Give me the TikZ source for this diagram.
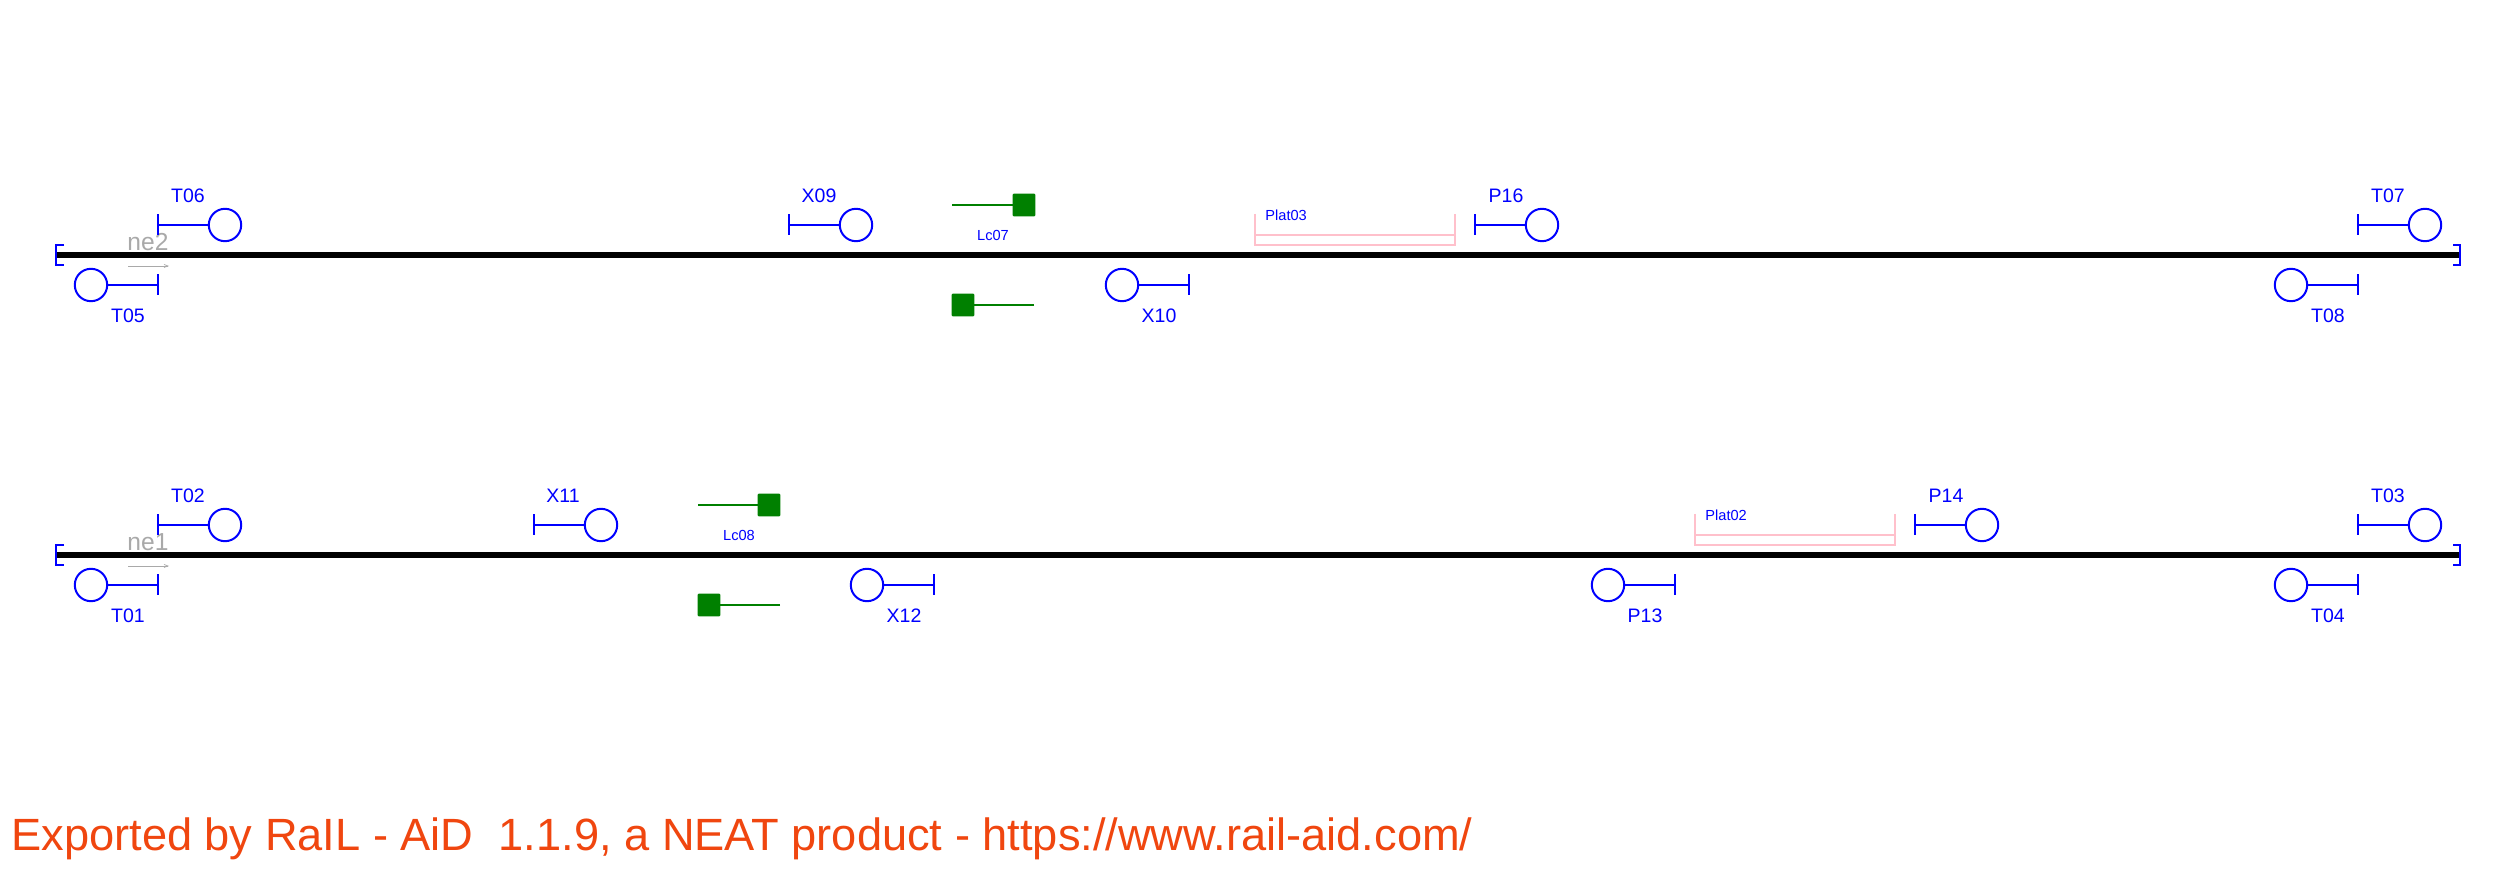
\documentclass[tikz,border=0pt]{standalone}
\usepackage{fontspec}
\setmainfont{Liberation Sans}
\usetikzlibrary{arrows.meta}
\definecolor{sigblue}{RGB}{0,0,255}
\definecolor{lcgreen}{RGB}{0,128,0}
\definecolor{platpink}{RGB}{255,192,203}
\definecolor{exportred}{RGB}{240,70,15}
\definecolor{negray}{RGB}{169,169,169}
\tikzset{
  sigline/.style={draw=sigblue,line width=1pt},
  sighead/.style={circle,draw=sigblue,line width=1pt,fill=none,minimum size=16.2pt,inner sep=0pt,outer sep=0pt},
  siglabel/.style={anchor=base,text=sigblue,font=\fontsize{9.75}{10}\selectfont,inner sep=0pt},
  smalllabel/.style={anchor=base,text=sigblue,font=\fontsize{7.3}{8}\selectfont,inner sep=0pt},
  platlabel/.style={anchor=base west,text=sigblue,font=\fontsize{7.3}{8}\selectfont,inner sep=0pt},
  neline/.style={anchor=base,text=negray,font=\fontsize{12.3}{13}\selectfont,inner sep=0pt},
  track/.style={draw=black,line width=2.6pt},
  trackend/.style={draw=sigblue,line width=1pt},
  lcsquare/.style={rectangle,fill=lcgreen,rounded corners=0.5pt,minimum size=11.3pt,inner sep=0pt,outer sep=0pt},
  lcline/.style={draw=lcgreen,line width=1pt},
  platline/.style={draw=platpink,line width=1pt},
  nearrow/.style={draw=negray,line width=0.35pt,-{Straight Barb[length=2pt,width=1.5pt]}},
  exportlabel/.style={anchor=base west,text=exportred,font=\fontsize{22.6}{24}\selectfont,inner sep=0pt}
}
% signal: name, bar x, circle x, y, label x, label y, label
\newcommand{\railsignal}[7]{
  \node[sighead] (#1c) at (#3,#4) {};
  \coordinate (#1a) at (#2,#4-10.5);
  \coordinate (#1b) at (#2,#4+10.5);
  \coordinate (#1m) at (#2,#4);
  \draw[sigline] (#1a) -- (#1b);
  \draw[sigline] (#1m) -- (#1c);
  \node[siglabel] (#1t) at (#5,#6) {#7};
}
% crossing symbol: name, line end x, square x, y
\newcommand{\railcrossing}[4]{
  \node[lcsquare] (#1s) at (#3,#4) {};
  \coordinate (#1e) at (#2,#4);
  \draw[lcline] (#1e) -- (#1s);
}
% platform: name, left x, right x, top y, label
\newcommand{\railplatform}[5]{
  \coordinate (#1a) at (#2,#4);
  \coordinate (#1b) at (#2,#4+21);
  \coordinate (#1c) at (#2,#4+31);
  \coordinate (#1d) at (#3,#4+31);
  \coordinate (#1e) at (#3,#4+21);
  \coordinate (#1f) at (#3,#4);
  \draw[platline] (#1a) -- (#1c) -- (#1d) -- (#1f);
  \draw[platline] (#1b) -- (#1e);
  \node[platlabel] (#1t) at (#2+10,#4+7) {#5};
}
% track: name, y, label
\newcommand{\railtrack}[3]{
  \coordinate (#1l) at (56,#2);
  \coordinate (#1r) at (2459,#2);
  \draw[track] (#1l) -- (#1r);
  \coordinate (#1la) at (64,#2-10);
  \coordinate (#1lb) at (56,#2-10);
  \coordinate (#1lc) at (56,#2+10);
  \coordinate (#1ld) at (64,#2+10);
  \coordinate (#1ra) at (2453,#2-10);
  \coordinate (#1rb) at (2460,#2-10);
  \coordinate (#1rc) at (2460,#2+10);
  \coordinate (#1rd) at (2453,#2+10);
  \draw[trackend] (#1la) -- (#1lb) -- (#1lc) -- (#1ld);
  \draw[trackend] (#1ra) -- (#1rb) -- (#1rc) -- (#1rd);
  \node[neline] (#1t) at (148,#2-4) {#3};
  \coordinate (#1p) at (128,#2+11);
  \coordinate (#1q) at (169,#2+11);
  \draw[nearrow] (#1p) -- (#1q);
}
\begin{document}
\begin{tikzpicture}[x=0.5pt,y=-0.5pt]
\useasboundingbox[fill=white] (0,0) rectangle (2516,870);
\railtrack{ne2}{255}{ne2}
\railtrack{ne1}{555}{ne1}
% upper line
\railsignal{T06}{158}{225}{225}{188}{203}{T06}
\railsignal{T05}{158}{91}{285}{128}{323}{T05}
\railsignal{X09}{789}{856}{225}{819}{203}{X09}
\railsignal{X10}{1189}{1122}{285}{1159}{323}{X10}
\railsignal{P16}{1475}{1542}{225}{1506}{203}{P16}
\railsignal{T07}{2358}{2425}{225}{2388}{203}{T07}
\railsignal{T08}{2358}{2291}{285}{2328}{323}{T08}
\railcrossing{LcA}{952}{1024}{205}
\railcrossing{LcB}{1034}{963}{305}
\node[smalllabel] (Lc07) at (993,241) {Lc07};
\railplatform{Plat03}{1255}{1455}{214}{Plat03}
% lower line
\railsignal{T02}{158}{225}{525}{188}{503}{T02}
\railsignal{T01}{158}{91}{585}{128}{623}{T01}
\railsignal{X11}{534}{601}{525}{563}{503}{X11}
\railsignal{X12}{934}{867}{585}{904}{623}{X12}
\railsignal{P13}{1675}{1608}{585}{1645}{623}{P13}
\railsignal{P14}{1915}{1982}{525}{1946}{503}{P14}
\railsignal{T03}{2358}{2425}{525}{2388}{503}{T03}
\railsignal{T04}{2358}{2291}{585}{2328}{623}{T04}
\railcrossing{LcC}{698}{769}{505}
\railcrossing{LcD}{780}{709}{605}
\node[smalllabel] (Lc08) at (739,541) {Lc08};
\railplatform{Plat02}{1695}{1895}{514}{Plat02}
\node[exportlabel] (export) at (11,850) {Exported by RaIL - AiD\ \ 1.1.9, a NEAT product - https://www.rail-aid.com/};
\end{tikzpicture}
\end{document}
